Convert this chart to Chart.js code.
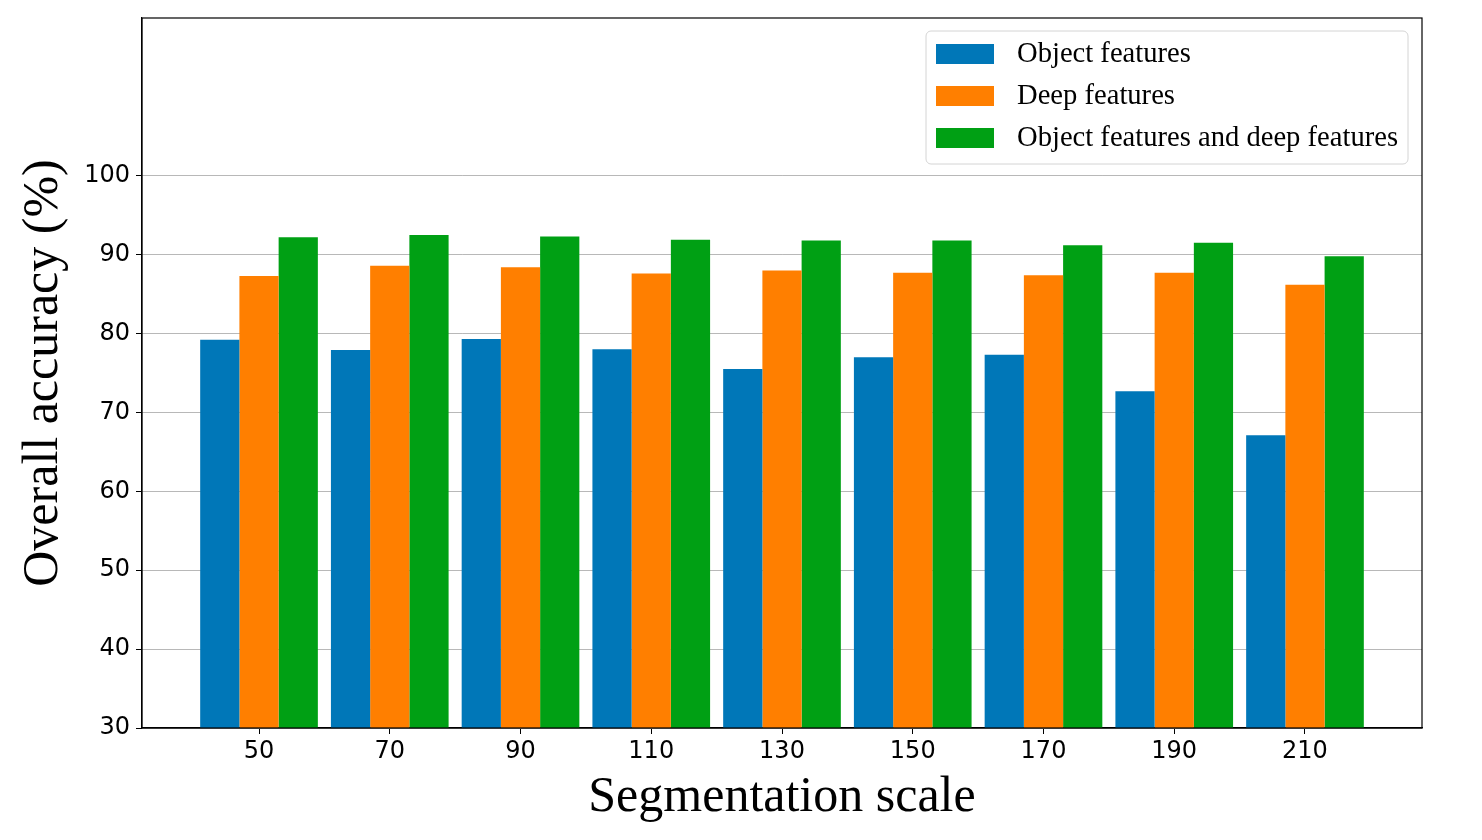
<!DOCTYPE html>
<html>
<head>
<meta charset="utf-8">
<title>Overall accuracy by segmentation scale</title>
<script src="https://cdn.jsdelivr.net/npm/chart.js@4/dist/chart.umd.min.js"></script>
<style>
  html, body { margin: 0; padding: 0; background: #fff; }
  #wrap { width: 1482px; height: 840px; }
</style>
</head>
<body>
<div id="wrap"><canvas id="accChart" width="1482" height="840"></canvas></div>
<script>
// ---- data ----
const scales      = [50, 70, 90, 110, 130, 150, 170, 190, 210];
const objectFeat  = [79.2, 77.9, 79.3, 78.0, 75.5, 77.0, 77.3, 72.7, 67.1];
const deepFeat    = [87.3, 88.6, 88.4, 87.6, 88.0, 87.7, 87.4, 87.7, 86.2];
const bothFeat    = [92.2, 92.5, 92.3, 91.9, 91.8, 91.8, 91.2, 91.5, 89.8];
const yTicks      = [30, 40, 50, 60, 70, 80, 90, 100];
const seriesNames = ['Object features', 'Deep features', 'Object features and deep features'];

const cBlue   = '#0077b8';
const cOrange = '#ff7f00';
const cGreen  = '#00a014';

const serif = '"Liberation Serif", "Times New Roman", serif';
const sans  = '"DejaVu Sans", sans-serif';

function points(vals) {
  return scales.map((x, i) => ({ x: x, y: vals[i] }));
}

// black frame round the plot, like the matplotlib axes box
const frame = {
  id: 'frame',
  afterDraw(chart) {
    const { ctx, chartArea: a } = chart;
    ctx.save();
    ctx.strokeStyle = '#000';
    ctx.lineWidth = 1.2;
    ctx.strokeRect(a.left, a.top, a.right - a.left, a.bottom - a.top);
    ctx.restore();
  }
};

// legend box in the upper right corner of the plot
const cornerLegend = {
  id: 'cornerLegend',
  afterDraw(chart) {
    const ctx = chart.ctx;
    const a = chart.chartArea;
    const x = a.right - 496, y = a.top + 13, w = 482, h = 133;
    ctx.save();
    ctx.beginPath();
    ctx.roundRect(x, y, w, h, 5);
    ctx.fillStyle = 'rgba(255,255,255,0.85)';
    ctx.fill();
    ctx.strokeStyle = '#d4d4d4';
    ctx.lineWidth = 1;
    ctx.stroke();
    ctx.font = '28.6px ' + serif;
    ctx.textBaseline = 'middle';
    chart.data.datasets.forEach((ds, i) => {
      const cy = y + 23 + i * 42;
      ctx.fillStyle = ds.backgroundColor;
      ctx.fillRect(x + 10, cy - 10, 58, 20);
      ctx.fillStyle = '#000';
      ctx.fillText(ds.label, x + 91, cy);
    });
    ctx.restore();
  }
};

new Chart(document.getElementById('accChart'), {
  type: 'bar',
  data: {
    datasets: [
      { label: seriesNames[0], data: points(objectFeat), backgroundColor: cBlue },
      { label: seriesNames[1], data: points(deepFeat),   backgroundColor: cOrange },
      { label: seriesNames[2], data: points(bothFeat),   backgroundColor: cGreen }
    ]
  },
  options: {
    responsive: false,
    animation: false,
    devicePixelRatio: 1,
    categoryPercentage: 0.9,
    barPercentage: 1.0,
    layout: { padding: { left: 0, right: 60, top: 18, bottom: 0 } },
    plugins: {
      legend: { display: false },
      tooltip: { enabled: false }
    },
    scales: {
      x: {
        type: 'linear',
        offset: false,
        min: 32.1,
        max: 227.9,
        afterBuildTicks: axis => { axis.ticks = scales.map(v => ({ value: v })); },
        afterFit: axis => { axis.height = 112; },
        grid: { offset: false, drawOnChartArea: false, drawTicks: true, tickLength: 6, color: '#000' },
        border: { color: '#000', width: 1.2 },
        ticks: { color: '#000', font: { family: sans, size: 24 }, padding: 3, maxRotation: 0 },
        title: {
          display: true,
          text: 'Segmentation scale',
          color: '#000',
          font: { family: serif, size: 50 },
          padding: { top: 0, bottom: 12 }
        }
      },
      y: {
        min: 30,
        max: 120,
        afterBuildTicks: axis => { axis.ticks = yTicks.map(v => ({ value: v })); },
        afterFit: axis => { axis.width = 142; axis.paddingTop = 0; axis.paddingBottom = 0; },
        grid: { color: '#b8b8b8', lineWidth: 1, tickColor: '#000', tickLength: 6 },
        border: { color: '#000', width: 1.2 },
        ticks: { color: '#000', font: { family: sans, size: 24 }, padding: 6 },
        title: {
          display: true,
          text: 'Overall accuracy (%)',
          color: '#000',
          font: { family: serif, size: 50 },
          padding: { top: 14, bottom: 0 }
        }
      }
    }
  },
  plugins: [frame, cornerLegend]
});
</script>
</body>
</html>
